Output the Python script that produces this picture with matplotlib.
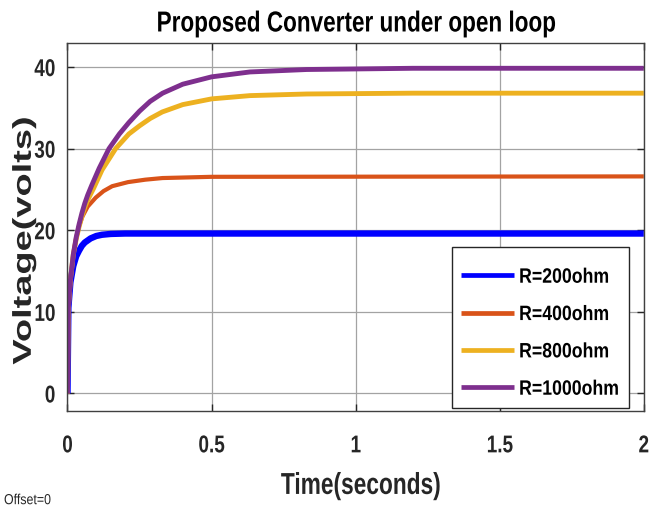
import matplotlib
matplotlib.use("Agg")
import matplotlib.pyplot as plt
from matplotlib.patheffects import AbstractPathEffect
from matplotlib.transforms import Affine2D
from matplotlib.path import Path
from matplotlib.patches import Rectangle

# ---- data ----
t_200 = [0, 0.003, 0.01, 0.02, 0.03, 0.04, 0.05, 0.06, 0.08, 0.10, 0.12, 0.15, 0.20, 0.30, 2.0]
v_200 = [0, 10.5, 13.6, 15.6, 16.8, 17.5, 18.1, 18.5, 19.0, 19.3, 19.45, 19.55, 19.6, 19.6, 19.6]

t_400 = [0, 0.003, 0.01, 0.02, 0.03, 0.04, 0.052, 0.07, 0.098, 0.125, 0.155, 0.21, 0.27, 0.33, 0.5, 2.0]
v_400 = [0, 10.5, 13.8, 17.0, 19.0, 20.5, 21.7, 22.9, 24.0, 24.8, 25.4, 25.9, 26.2, 26.4, 26.55, 26.6]

t_800 = [0, 0.003, 0.01, 0.02, 0.03, 0.04, 0.05, 0.06, 0.07, 0.09, 0.12, 0.167, 0.213, 0.25, 0.287,
         0.329, 0.4, 0.5, 0.633, 0.83, 1.2, 2.0]
v_800 = [0, 10.5, 13.9, 17.0, 18.9, 20.4, 21.7, 22.8, 23.7, 25.1, 27.4, 30.0, 31.8, 32.8, 33.7,
         34.5, 35.4, 36.1, 36.5, 36.7, 36.8, 36.8]

t_1000 = [0, 0.003, 0.01, 0.02, 0.03, 0.04, 0.05, 0.06, 0.07, 0.084, 0.11, 0.144, 0.18, 0.213, 0.25,
          0.287, 0.33, 0.4, 0.5, 0.633, 0.83, 1.2, 2.0]
v_1000 = [0, 10.5, 13.9, 17.0, 19.1, 20.7, 22.1, 23.3, 24.3, 25.5, 27.6, 30.0, 31.8, 33.2, 34.6,
          35.8, 36.8, 37.9, 38.8, 39.4, 39.7, 39.85, 39.85]

labels = ["R=200ohm", "R=400ohm", "R=800ohm", "R=1000ohm"]
colors = ["#0000FF", "#D95319", "#EDB120", "#7E2F8E"]

x_ticks = [0, 0.5, 1, 1.5, 2]
x_ticklabels = ["0", "0.5", "1", "1.5", "2"]
y_ticks = [0, 10, 20, 30, 40]

FONT = ["Liberation Sans", "DejaVu Sans"]
DARK = "#262626"


class Stretch(AbstractPathEffect):
    """Draw text glyphs scaled along the text direction (condensed look)."""

    def __init__(self, sx, anchor=0.5):
        super().__init__()
        self.sx = sx
        self.anchor = anchor

    def draw_path(self, renderer, gc, tpath, affine, rgbFace=None):
        v = tpath.vertices
        codes = tpath.codes
        if codes is not None:
            mask = (codes != Path.CLOSEPOLY) & (codes != Path.STOP)
            vv = v[mask]
        else:
            vv = v
        if len(vv):
            x0, x1 = vv[:, 0].min(), vv[:, 0].max()
        else:
            x0 = x1 = 0.0
        xa = x0 + self.anchor * (x1 - x0)
        t = Affine2D().translate(-xa, 0).scale(self.sx, 1).translate(xa, 0)
        renderer.draw_path(gc, tpath, t + affine, rgbFace)


fig = plt.figure(figsize=(6.49, 5.13), dpi=100)
ax = fig.add_axes([0.104, 0.198, 0.888, 0.719])

series = [(t_200, v_200), (t_400, v_400), (t_800, v_800), (t_1000, v_1000)]
widths = [4.6, 3.0, 3.5, 3.5]
for (t, v), lab, c, w in zip(series, labels, colors, widths):
    ax.plot(t, v, color=c, lw=w, label=lab, solid_capstyle="butt", solid_joinstyle="round")

ax.set_xlim(0, 2)
ax.set_ylim(-2.2, 43.0)
ax.set_xticks(x_ticks)
ax.set_xticklabels(x_ticklabels)
ax.set_yticks(y_ticks)

ax.grid(True, color="#a3a3a3", lw=0.9)
ax.set_axisbelow(True)
for s in ax.spines.values():
    s.set_color("#404040")
    s.set_linewidth(1.0)

ax.tick_params(axis="both", direction="in", length=5, width=1, color=DARK,
               top=True, right=True)
ax.tick_params(axis="x", pad=16.5)
ax.tick_params(axis="y", pad=8.6)

ax.set_title("Proposed Converter under open loop", family=FONT, fontweight="bold",
             fontsize=20.8, pad=8, color="black",
             path_effects=[Stretch(0.78, 0.5)])
ax.set_xlabel("Time(seconds)", family=FONT, fontweight="bold", fontsize=21.8,
              labelpad=10.5, color=DARK, path_effects=[Stretch(0.75, 0.5)])
ax.xaxis.label.set_x(0.509)
ax.set_ylabel("Voltage(volts)", family=FONT, fontweight="bold", fontsize=18.6,
              color=DARK, path_effects=[Stretch(1.47, 0.5)])
ax.yaxis.set_label_coords(-0.055, 0.463)

# legend (frame drawn separately so it fits the condensed text)
leg = ax.legend(loc="upper left", bbox_to_anchor=(0.682, 0.3896), borderaxespad=0,
                prop={"family": FONT, "weight": "bold", "size": 15},
                handlelength=2.56, handletextpad=0.24, labelspacing=0.88,
                borderpad=0, frameon=False)
for line in leg.get_lines():
    line.set_linewidth(3.4)
for txt in leg.get_texts():
    txt.set_color("black")
    txt.set_path_effects([Stretch(0.85, 0.0)])
leg.set_zorder(6)
frame = Rectangle((0.667, 0.0095), 0.974 - 0.667, 0.445 - 0.0095, transform=ax.transAxes,
                  facecolor="white", edgecolor=DARK, lw=1.0, zorder=5.5)
ax.add_patch(frame)

fig.text(0.006, 0.025, "Offset=0", family=FONT, fontsize=10.5, color=DARK,
         ha="left", va="center", path_effects=[Stretch(0.85, 0.0)])

for lab in ax.get_xticklabels():
    lab.set_family(FONT)
    lab.set_fontweight("bold")
    lab.set_fontsize(17.5)
    lab.set_color(DARK)
    lab.set_path_effects([Stretch(0.78, 0.5)])
for lab in ax.get_yticklabels():
    lab.set_family(FONT)
    lab.set_fontweight("bold")
    lab.set_fontsize(17.5)
    lab.set_color(DARK)
    lab.set_path_effects([Stretch(0.78, 1.0)])

fig.savefig("out.png", dpi=100)
